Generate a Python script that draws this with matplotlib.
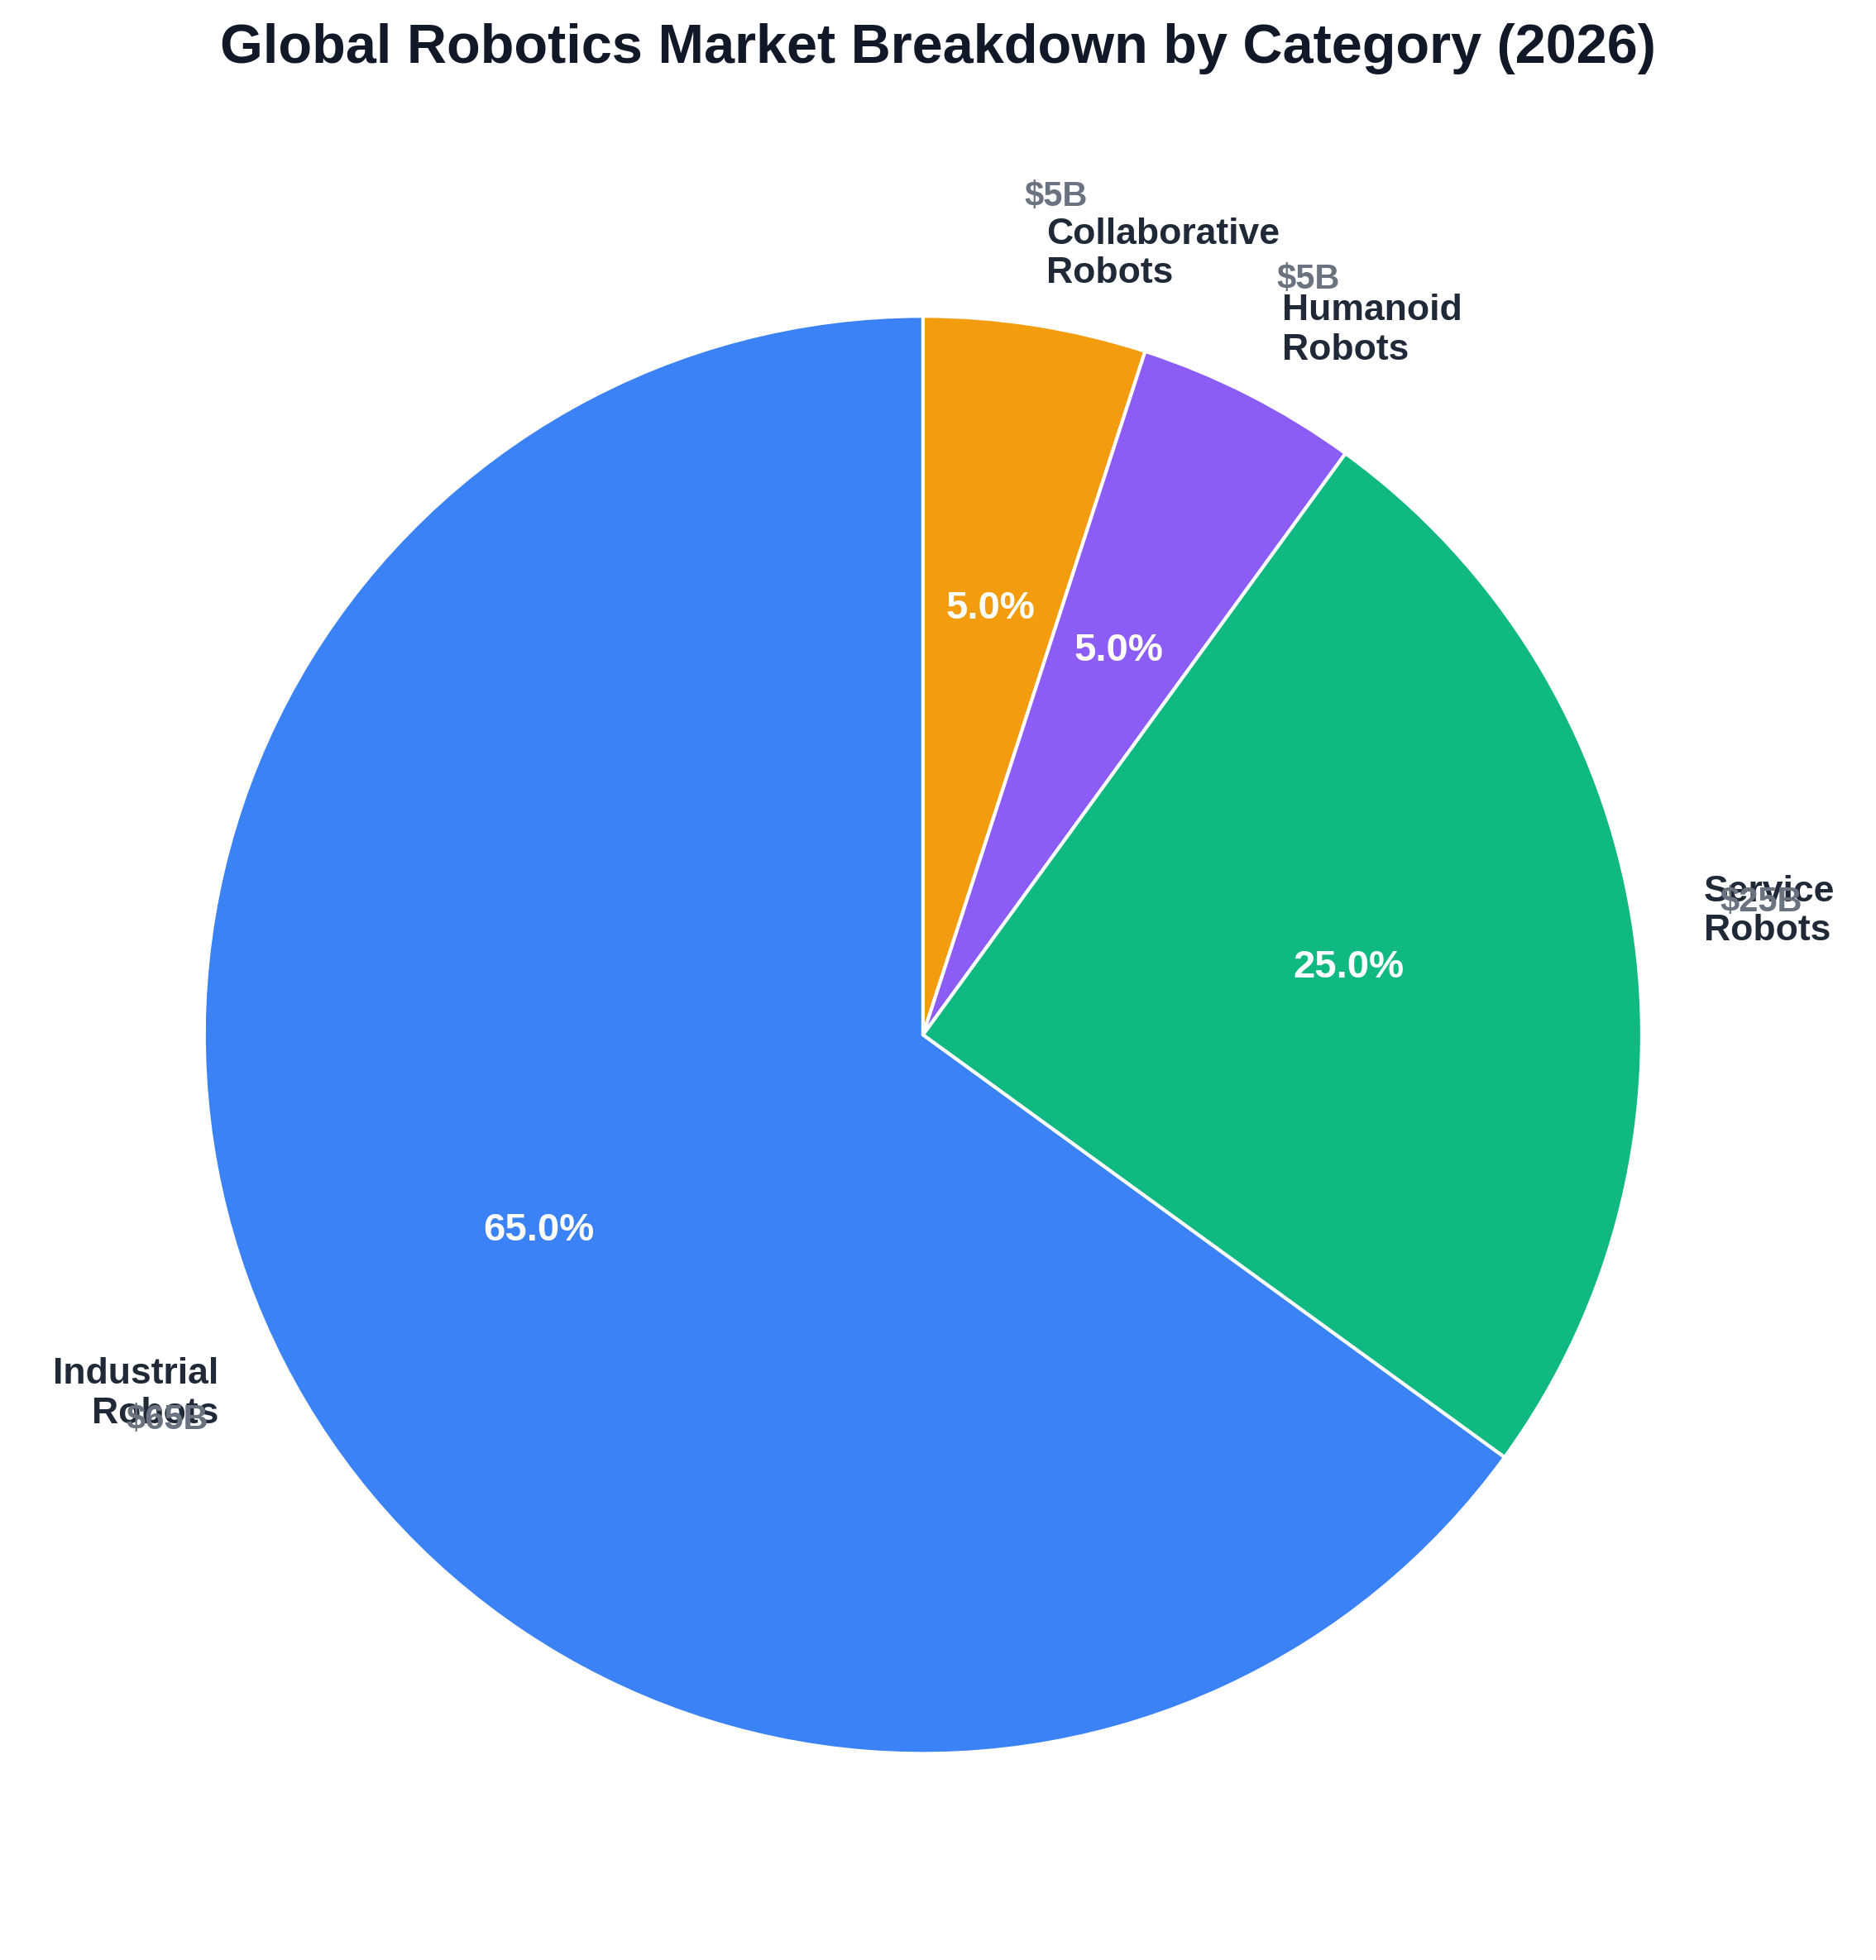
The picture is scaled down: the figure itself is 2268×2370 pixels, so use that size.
import numpy as np
import matplotlib
matplotlib.use('Agg')
import matplotlib.pyplot as plt

plt.rcParams['font.family'] = ['Liberation Sans', 'DejaVu Sans']

categories = ['Collaborative\nRobots', 'Humanoid\nRobots', 'Service\nRobots', 'Industrial\nRobots']
values = [5, 5, 25, 65]
value_labels = ['$5B', '$5B', '$25B', '$65B']
colors = ['#F39C0E', '#8B5CF6', '#10B981', '#3B82F6']

fig = plt.figure(figsize=(11.34, 11.85), dpi=200)
ax = fig.add_axes([0.013, 0.0135, 0.958, 0.917])
wedges, texts, autotexts = ax.pie(
    values, labels=categories, colors=colors, startangle=90, counterclock=False,
    autopct='%1.1f%%', pctdistance=0.6, labeldistance=1.1,
    wedgeprops=dict(edgecolor='white', linewidth=1.5),
    textprops=dict(fontsize=16, fontweight='bold', color='#1F2937'))
for t in autotexts:
    t.set_color('white')
    t.set_fontsize(17)

for w, lab in zip(wedges, value_labels):
    ang = np.deg2rad((w.theta1 + w.theta2) / 2)
    ax.text(1.18 * np.cos(ang), 1.18 * np.sin(ang), lab, ha='center', va='center',
            fontsize=15, fontweight='bold', color='#6B7280')

ax.set_aspect('equal')
fig.suptitle('Global Robotics Market Breakdown by Category (2026)', fontsize=24,
             fontweight='bold', color='#111827', y=0.988, va='top')
fig.savefig('out.png')
